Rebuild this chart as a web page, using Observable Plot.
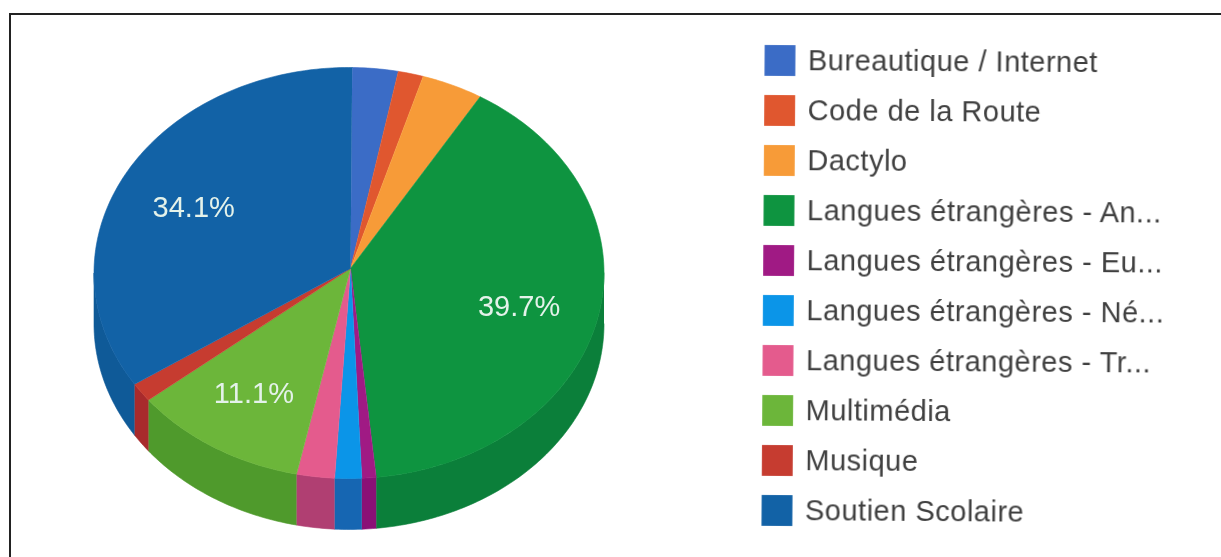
<!DOCTYPE html>
<html><head><meta charset="utf-8">
<script src="https://cdn.jsdelivr.net/npm/d3@7"></script>
<script src="https://cdn.jsdelivr.net/npm/@observablehq/plot@0.6"></script>
<style>
html,body{margin:0;padding:0;background:#fff;}
#wrap{position:relative;width:1221px;height:557px;overflow:hidden;background:#fff;}
#frame{position:absolute;left:9px;top:13px;width:1300px;height:600px;border:2px solid #222;}
#pie,#legend{position:absolute;left:0;top:0;}
#legend{transform:rotate(0.38deg);transform-origin:780px 285px;}
svg{filter:blur(0.4px);}
</style></head><body>
<div id="wrap"><div id="frame"></div><div id="pie"></div><div id="legend"></div></div>
<script>
const categories=["Bureautique / Internet","Code de la Route","Dactylo","Langues étrangères - An...","Langues étrangères - Eu...","Langues étrangères - Né...","Langues étrangères - Tr...","Multimédia","Musique","Soutien Scolaire"];
const shares=[2.9,1.6,3.9,39.7,0.9,1.7,2.4,11.1,1.5,34.1];
const topColors=["#3b6cc6","#e0572f","#f79b38","#0e9440","#a01a84","#0b95e8","#e45b8d","#6cb63a","#c63c30","#1262a6"];
const sideColors=["#2c52a0","#b04020","#c87a28","#0b7f3a","#8a1076","#1666b2","#b03f72","#4f9a2c","#a82a2c","#0f5a98"];
const labelled=[{name:"Langues étrangères - An...",label:"39.7%",x:0.667,y:-0.164},{name:"Multimédia",label:"11.1%",x:-0.373,y:-0.589},{name:"Soutien Scolaire",label:"34.1%",x:-0.609,y:0.319}];
const startShare=0.2, depth=0.248, apex=[0.006,0.022];
const side=c=>c+" (côté)";
const rad=s=>s/100*2*Math.PI;
const rim=(a,b)=>{const n=Math.max(2,Math.ceil((b-a)*4));return d3.range(n+1).map(i=>{const t=rad(a+(b-a)*i/n);return [Math.sin(t),Math.cos(t)];});};
const tops=[],walls=[];
let acc=startShare;
categories.forEach((c,i)=>{
  const a=acc,b=i===categories.length-1?100+startShare:acc+shares[i];acc=b;
  [apex,...rim(a,b)].forEach(p=>tops.push({c,x:p[0],y:p[1]}));
  const a2=Math.max(a,25),b2=Math.min(b,75);
  if(b2>a2){const r=rim(a2,b2);
    [...r,...r.slice().reverse().map(p=>[p[0],p[1]-depth])].forEach(p=>walls.push({c:side(c),x:p[0],y:p[1]}));}
});
const colorScale={type:"ordinal",domain:[...categories,...categories.map(side)],range:[...topColors,...sideColors]};
const pie=Plot.plot({width:1221,height:557,margin:0,
  x:{domain:[-1,1],range:[93.5,603.5],axis:null},
  y:{domain:[-1,1],range:[478,67],axis:null},
  color:colorScale,
  style:{background:"transparent",fontFamily:"'Liberation Sans',Arial,sans-serif"},
  marks:[
    Plot.line(walls,{x:"x",y:"y",z:"c",fill:"c",stroke:"c",strokeWidth:0.6}),
    Plot.line(tops,{x:"x",y:"y",z:"c",fill:"c",stroke:"c",strokeWidth:0.6}),
    Plot.text(labelled,{x:"x",y:"y",text:"label",fill:"#e4f2ea",fontSize:29})
  ]});
document.getElementById("pie").append(pie);
const legend=Plot.plot({width:1221,height:557,margin:0,
  y:{type:"point",domain:categories,range:[56.5,512.5],padding:0,axis:null},
  color:{domain:categories,range:topColors},
  style:{background:"transparent",fontFamily:"'Liberation Sans',Arial,sans-serif",letterSpacing:"0.5px"},
  marks:[
    Plot.dot(categories,{y:d=>d,fill:d=>d,symbol:"square",r:17.4,frameAnchor:"left",dx:778}),
    Plot.text(categories,{y:d=>d,text:d=>d,frameAnchor:"left",dx:806,textAnchor:"start",fontSize:29,fill:"#3f3f3f"})
  ]});
document.getElementById("legend").append(legend);
</script></body></html>
